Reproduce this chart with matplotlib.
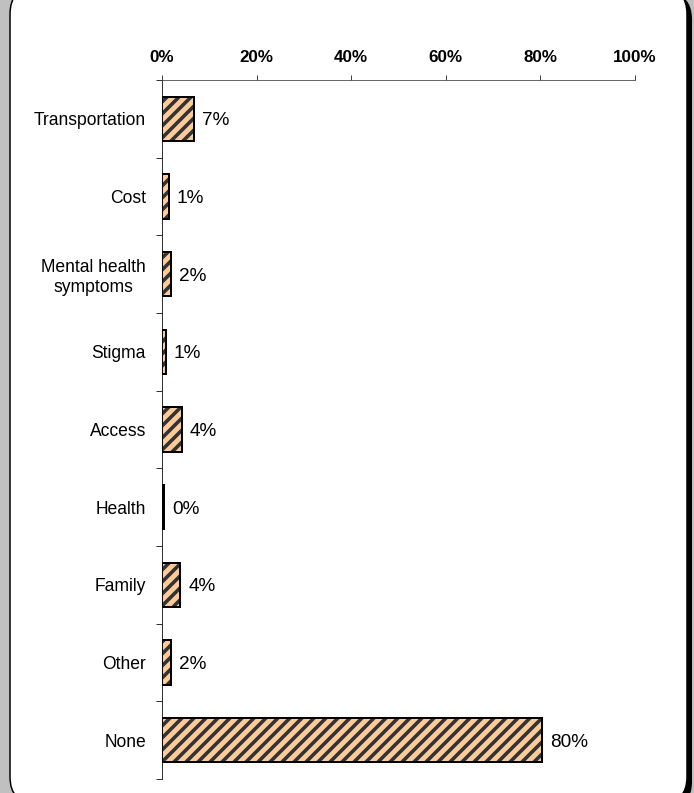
import matplotlib
matplotlib.use("Agg")
import matplotlib.pyplot as plt
from matplotlib.patches import FancyBboxPatch
from matplotlib.transforms import IdentityTransform
import numpy as np

# data
categories = ["Transportation", "Cost", "Mental health\nsymptoms", "Stigma",
              "Access", "Health", "Family", "Other", "None"]
values = [6.7, 1.4, 1.8, 0.8, 4.2, 0.4, 3.9, 1.8, 80.3]
xticks = [0, 20, 40, 60, 80, 100]

plt.rcParams['font.family'] = ['Liberation Sans', 'DejaVu Sans']
plt.rcParams['hatch.linewidth'] = 3.6

DPI = 72
W, H = 694, 793
fig = plt.figure(figsize=(W / DPI, H / DPI), dpi=DPI, facecolor='#c0c0c0')

# rounded white panel with black shadow (display pixels), behind the axes
shadow = FancyBboxPatch((15, -15), 677, 815, boxstyle="round,pad=0,rounding_size=26",
                        transform=IdentityTransform(), facecolor='black',
                        edgecolor='black', lw=0, zorder=-2)
panel = FancyBboxPatch((10, -10), 677, 815, boxstyle="round,pad=0,rounding_size=26",
                       transform=IdentityTransform(), facecolor='white',
                       edgecolor='black', lw=1.5, zorder=-1)
fig.patches.extend([shadow, panel])

ax = fig.add_axes([162 / W, 14 / H, (635 - 162) / W, (713 - 14) / H])
ax.set_facecolor('none')

y = np.arange(len(categories))
# hatched fill, then black outline on top
ax.barh(y, values, height=0.57, color='#ffcc99', edgecolor='#333333',
        hatch='//', lw=0, zorder=2)
ax.barh(y, values, height=0.57, color='none', edgecolor='black', lw=2, zorder=3)

for yi, v in zip(y, values):
    ax.text(v + 1.7, yi, f"{v:.0f}%", va='center_baseline', ha='left', fontsize=19)

ax.set_xlim(0, 100)
ax.set_ylim(len(categories) - 0.5, -0.5)

ax.xaxis.tick_top()
ax.set_xticks(xticks)
ax.set_xticklabels([f"{t}%" for t in xticks], fontweight='bold', fontsize=17)
ax.tick_params(axis='x', direction='out', length=5, width=1, color='#444444', pad=10)

ax.set_yticks(y)
ax.set_yticklabels(categories, fontsize=17.5, multialignment='center')
ax.tick_params(axis='y', which='major', length=0, pad=16)
ax.set_yticks(np.arange(-0.5, len(categories)), minor=True)
ax.tick_params(axis='y', which='minor', direction='out', length=6, width=1, color='#333333')

ax.spines['right'].set_visible(False)
ax.spines['bottom'].set_visible(False)
ax.spines['top'].set_color('#444444')
ax.spines['left'].set_color('black')

fig.savefig("out.png", dpi=DPI, facecolor=fig.get_facecolor())
